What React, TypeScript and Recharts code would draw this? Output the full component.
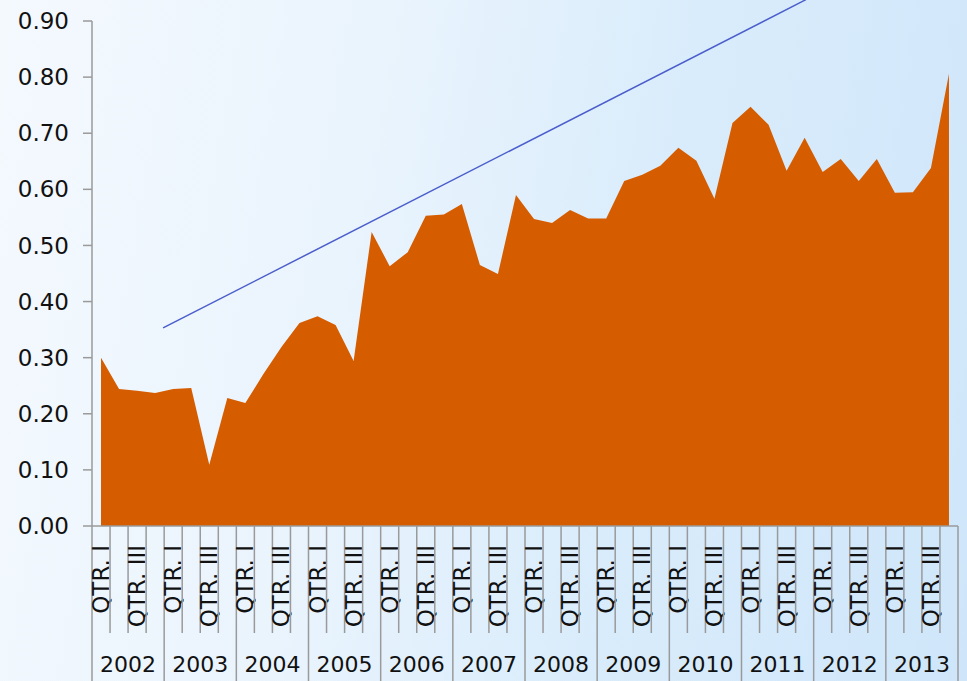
import { AreaChart, Area, XAxis, YAxis, ReferenceLine } from 'recharts';

const years = ['2002', '2003', '2004', '2005', '2006', '2007', '2008', '2009', '2010', '2011', '2012', '2013'];
const quarterLabels = ['QTR. I', '', 'QTR. III', ''];

// one value per quarter, 2002 Q1 .. 2013 Q4
const values = [
    0.30, 0.244, 0.241, 0.237,
    0.244, 0.246, 0.109, 0.228,
    0.219, 0.271, 0.319, 0.362,
    0.374, 0.358, 0.294, 0.524,
    0.463, 0.488, 0.553, 0.555,
    0.574, 0.465, 0.449, 0.59,
    0.547, 0.54, 0.563, 0.548,
    0.548, 0.615, 0.626, 0.642,
    0.674, 0.651, 0.583, 0.718,
    0.747, 0.715, 0.633, 0.692,
    0.631, 0.654, 0.615, 0.654,
    0.594, 0.595, 0.638, 0.806,
];

const yTicks = [0, 0.1, 0.2, 0.3, 0.4, 0.5, 0.6, 0.7, 0.8, 0.9];

// trend line, as (quarter index, value)
const trendStart = { x: 3.44, y: 0.353 };
const trendEnd = { x: 39.07, y: 0.938 };

const chartData = values.map((v, i) => ({ idx: i, value: v }));
const indices = values.map((_, i) => i);

const WIDTH = 967;
const HEIGHT = 681;
const PLOT_LEFT = 92;
const PLOT_RIGHT = 958;
const CAT_W = (PLOT_RIGHT - PLOT_LEFT) / values.length;
const AXIS_COLOR = '#9a9a9a';
const FONT = '"DejaVu Sans", Verdana, sans-serif';

function QuarterTick(props: any) {
    const { x, y, payload } = props;
    const i = payload.value as number;
    const half = CAT_W / 2;
    const label = quarterLabels[i % 4];
    const isYearStart = i % 4 === 0;
    return (
        <g>
            <line x1={x - half} x2={x - half} y1={y} y2={isYearStart ? HEIGHT : y + 107} stroke={AXIS_COLOR} strokeWidth={1.5} />
            {i === values.length - 1 && (
                <line x1={x + half} x2={x + half} y1={y} y2={HEIGHT} stroke={AXIS_COLOR} strokeWidth={1.5} />
            )}
            {label && (
                <text
                    x={x}
                    y={y + 19}
                    transform={`rotate(-90, ${x}, ${y + 19})`}
                    textAnchor="end"
                    dominantBaseline="central"
                    fontSize={23}
                    fill="#111"
                    fontFamily={FONT}
                >
                    {label}
                </text>
            )}
            {isYearStart && (
                <text x={x + 1.5 * CAT_W} y={y + 146} textAnchor="middle" fontSize={22} fill="#111" fontFamily={FONT}>
                    {years[i / 4]}
                </text>
            )}
        </g>
    );
}

export default function App() {
    return (
        <div
            style={{
                position: 'absolute',
                left: 0,
                top: 0,
                width: WIDTH,
                height: HEIGHT,
                overflow: 'hidden',
                background:
                    'linear-gradient(100deg, #f4f9fe 0%, #eaf4fd 35%, #d9ecfb 65%, #cfe6fa 100%)',
                fontFamily: FONT,
            }}
        >
            <AreaChart
                width={WIDTH}
                height={HEIGHT}
                data={chartData}
                margin={{ top: 21, right: WIDTH - PLOT_RIGHT, bottom: 0, left: 0 }}
            >
                <XAxis
                    type="number"
                    dataKey="idx"
                    domain={[-0.5, values.length - 0.5]}
                    ticks={indices}
                    interval={0}
                    height={155}
                    tickSize={0}
                    tickMargin={0}
                    tickLine={false}
                    axisLine={{ stroke: AXIS_COLOR, strokeWidth: 1.5 }}
                    tick={<QuarterTick />}
                />
                <YAxis
                    type="number"
                    domain={[0, 0.9]}
                    ticks={yTicks}
                    width={PLOT_LEFT}
                    tickSize={9}
                    tickMargin={14}
                    axisLine={{ stroke: AXIS_COLOR, strokeWidth: 1.5 }}
                    tickLine={{ stroke: AXIS_COLOR, strokeWidth: 1.5 }}
                    tickFormatter={(v: number) => v.toFixed(2)}
                    tick={{ fontSize: 23, fill: '#111', fontFamily: FONT }}
                />
                <Area
                    type="linear"
                    dataKey="value"
                    fill="#d65c00"
                    fillOpacity={1}
                    stroke="none"
                    isAnimationActive={false}
                />
                <ReferenceLine
                    segment={[trendStart, trendEnd]}
                    stroke="#4a5dcc"
                    strokeWidth={1.5}
                    ifOverflow="visible"
                />
            </AreaChart>
        </div>
    );
}
